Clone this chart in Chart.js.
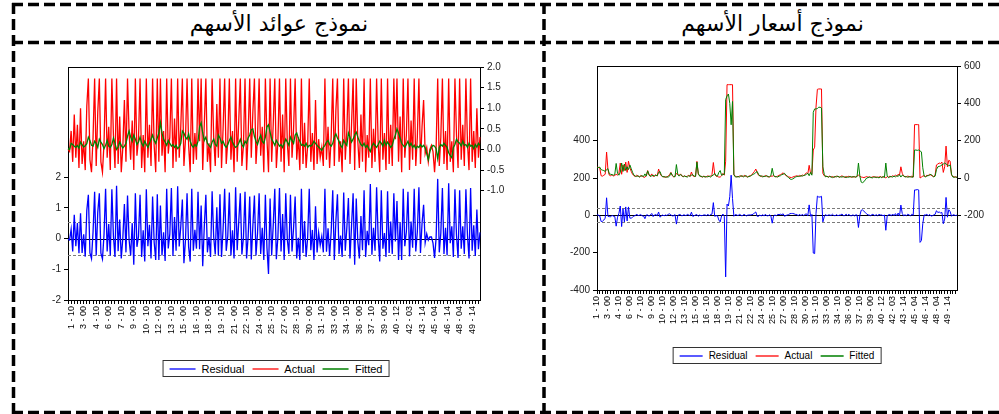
<!DOCTYPE html>
<html>
<head>
<meta charset="utf-8">
<script src="https://cdn.jsdelivr.net/npm/chart.js@4"></script>
<style>
html, body { margin: 0; padding: 0; background: #fff; }
body { width: 999px; height: 414px; position: relative; overflow: hidden; }
.title { position: absolute; top: 7px; height: 34px; line-height: 34px; text-align: center;
         font-family: "DejaVu Sans", sans-serif; font-size: 22px; color: #000; direction: rtl; }
canvas { position: absolute; }
svg { position: absolute; left: 0; top: 0; }
.legend { position: absolute; transform: translateX(-50%); display: flex; align-items: center;
          border: 1px solid #333; padding: 0 6px; box-sizing: border-box; background: #fff;
          font-family: "Liberation Sans", Arial, sans-serif; color: #000; white-space: nowrap; }
.legend .item { display: flex; align-items: center; margin-right: 8px; }
.legend .item:last-child { margin-right: 0; }
.legend .sample { display: inline-block; height: 2px; margin-right: 6px; }
</style>
</head>
<body>
<svg width="999" height="414">
  <g stroke="#000" stroke-width="3.5" stroke-dasharray="11 5" fill="none">
    <line x1="12" y1="4.5" x2="999" y2="4.5"/>
    <line x1="12" y1="42.5" x2="999" y2="42.5"/>
    <line x1="12" y1="412.5" x2="999" y2="412.5"/>
    <line x1="13.5" y1="3" x2="13.5" y2="414"/>
    <line x1="544" y1="3" x2="544" y2="414"/>
  </g>
</svg>
<div class="title" style="left:16px;width:526px">نموذج عوائد الأسهم</div>
<div class="title" style="left:546px;width:453px">نموذج أسعار الأسهم</div>
<canvas id="returnsChart" width="515" height="305" style="left:20px;top:50px"></canvas>
<canvas id="pricesChart" width="449" height="292" style="left:550px;top:50px"></canvas>
<div class="legend" id="returnsLegend" style="left:276px;top:360px;height:17px;font-size:11px"></div>
<div class="legend" id="pricesLegend" style="left:777px;top:347px;height:17px;font-size:10px"></div>
<script>
// tick labels on the time axis
const periodLabels = ['1 - 10', '3 - 00', '4 - 10', '6 - 00', '7 - 10', '9 - 00', '10 - 10', '12 - 00',
    '13 - 10', '15 - 00', '16 - 10', '18 - 00', '19 - 10', '21 - 00', '22 - 10', '24 - 00', '25 - 10',
    '27 - 00', '28 - 10', '30 - 00', '31 - 10', '33 - 00', '34 - 10', '36 - 00', '37 - 10', '39 - 00',
    '40 - 12', '42 - 03', '43 - 14', '45 - 04', '46 - 14', '48 - 04', '49 - 14'];
const seriesNames = ['Residual', 'Actual', 'Fitted'];
const seriesColors = ['#0000ff', '#ff0000', '#008000'];
const legendColors = ['#5b5bff', '#ff5b5b', '#3f9f3f'];

// stock returns model
const returnsActual = [
    0.00, -0.05, 0.45, -0.30, 0.85, -0.20, 0.60, -0.45, 1.00, -0.35, 0.20, -0.50,
    1.05, 1.72, -0.25, -0.55, 0.30, 1.72, -0.40, 0.90, 1.72, -0.30, -0.55, 0.15,
    1.72, -0.20, 0.55, -0.50, 1.72, 0.35, -0.45, 1.72, -0.35, 0.80, -0.55, 0.05,
    1.20, -0.30, 1.72, 0.40, -0.25, 0.70, -0.50, 1.72, -0.15, 0.25, 1.72, -0.45,
    0.35, -0.55, 1.72, -0.20, 0.60, -0.40, 1.72, 0.10, -0.55, 1.72, -0.30, 1.72,
    -0.15, 0.45, -0.55, 1.72, -0.10, 0.30, 1.72, -0.45, 0.75, -0.30, 1.72, -0.20,
    0.55, 1.72, -0.40, 0.25, 1.72, 0.10, -0.55, 1.72, -0.35, 0.40, -0.25, 1.72,
    0.20, 1.72, -0.50, 0.60, 1.72, -0.30, 0.15, -0.55, 1.72, 0.30, -0.40, 1.10,
    -0.20, 1.72, -0.45, 0.50, 1.72, -0.35, 0.20, 1.72, -0.25, 0.45, -0.55, 1.72,
    -0.30, 0.70, 1.72, -0.40, 0.10, 1.72, -0.50, 0.35, 1.72, -0.20, 0.90, 1.72,
    -0.35, 0.30, 1.72, -0.15, 0.55, -0.55, 1.72, 0.25, -0.55, 1.72, -0.30, 0.60,
    1.72, -0.45, 0.20, 1.72, -0.30, 0.85, -0.55, 1.72, 0.15, -0.40, 1.72, -0.20,
    0.50, 1.72, -0.25, 0.30, -0.50, 1.72, -0.35, 0.65, -0.45, 0.10, 1.72, -0.30,
    0.40, -0.50, 1.20, -0.35, 0.25, -0.20, 0.05, -0.40, 1.72, -0.25, 0.55, -0.45,
    0.30, 1.72, -0.40, 0.95, 1.72, -0.30, 0.20, -0.55, 1.72, -0.25, 0.45, 1.72,
    -0.35, 0.60, 1.72, -0.50, 1.72, 0.20, -0.45, 0.85, -0.30, 1.72, -0.55, 0.35,
    -0.20, 1.72, -0.45, 0.50, -0.30, 1.72, 0.15, -0.55, 1.72, -0.25, 0.40, -0.50,
    1.72, -0.35, 0.60, -0.40, 1.72, 0.25, 1.72, -0.30, 0.80, -0.55, 1.72, -0.20,
    0.35, 1.72, -0.50, 0.70, -0.25, 1.72, -0.40, 0.30, 1.72, -0.35, 0.55, 1.20,
    -0.10, 0.05, -0.30, 0.00, 0.10, -0.05, -0.55, 0.05, 1.72, -0.40, 0.30, 1.72,
    -0.35, 0.45, -0.50, 1.72, -0.30, 0.20, -0.55, 1.72, 0.35, -0.45, 1.72, -0.25,
    0.60, -0.40, 1.72, 0.15, -0.50, 1.72, -0.30, 0.45, -0.45, 1.00, -0.20, 0.30
];
const returnsFitted = [
    0.02, 0.00, 0.15, 0.12, 0.08, 0.05, 0.10, 0.03, 0.18, 0.12, 0.06, 0.09,
    0.14, 0.30, 0.22, 0.10, 0.08, 0.20, 0.15, 0.05, 0.25, 0.18, 0.12, 0.02,
    0.10, 0.22, 0.08, 0.05, 0.12, 0.28, 0.15, 0.00, 0.06, 0.18, 0.10, 0.04,
    0.08, 0.15, 0.32, 0.45, 0.30, 0.20, 0.35, 0.25, 0.12, 0.18, 0.30, 0.15,
    0.08, 0.20, 0.12, 0.05, 0.15, 0.25, 0.35, 0.22, 0.15, 0.28, 0.40, 0.65,
    0.40, 0.25, 0.18, 0.10, 0.22, 0.15, 0.08, 0.12, 0.05, 0.10, 0.02, 0.06,
    0.15, 0.45, 0.40, 0.30, 0.25, 0.38, 0.20, 0.10, 0.05, 0.12, 0.08, 0.20,
    0.55, 0.65, 0.40, 0.22, 0.30, 0.15, 0.10, 0.05, 0.18, 0.25, 0.12, 0.08,
    0.35, 0.28, 0.15, 0.20, 0.10, 0.05, 0.12, 0.22, 0.30, 0.18, 0.10, 0.05,
    0.08, 0.15, 0.25, 0.12, 0.06, 0.20, 0.15, 0.28, 0.35, 0.48, 0.50, 0.32,
    0.20, 0.12, 0.25, 0.35, 0.20, 0.15, 0.30, 0.55, 0.60, 0.42, 0.25, 0.18,
    0.10, 0.22, 0.15, 0.08, 0.12, 0.05, 0.15, 0.25, 0.18, 0.10, 0.30, 0.22,
    0.15, 0.35, 0.40, 0.28, 0.20, 0.10, 0.12, 0.08, 0.15, 0.05, 0.10, 0.08,
    0.12, 0.20, 0.15, 0.10, 0.06, 0.02, -0.02, 0.05, 0.10, 0.18, 0.22, 0.12,
    0.08, 0.15, 0.30, 0.38, 0.28, 0.20, 0.10, 0.05, 0.22, 0.15, 0.10, 0.40,
    0.30, 0.18, 0.25, 0.35, 0.42, 0.30, 0.20, 0.12, 0.08, 0.15, 0.05, 0.10,
    0.02, -0.05, 0.08, 0.15, 0.10, 0.05, 0.12, 0.20, 0.15, 0.08, 0.22, 0.10,
    0.18, 0.12, 0.05, 0.10, 0.25, 0.35, 0.50, 0.40, 0.28, 0.15, 0.10, 0.05,
    0.12, 0.20, 0.08, 0.15, 0.05, 0.10, 0.02, 0.08, 0.05, 0.12, 0.06, 0.10,
    0.04, -0.10, -0.25, -0.05, 0.05, 0.10, 0.08, 0.02, -0.22, 0.05, 0.12, 0.08,
    0.15, 0.10, 0.05, -0.08, -0.15, -0.20, 0.05, 0.12, 0.25, 0.18, 0.15, 0.08,
    0.20, 0.10, 0.12, 0.05, 0.15, 0.08, 0.10, 0.02, 0.12, 0.06, 0.15, 0.10
];
const returnsResidual = [
    -0.02, -0.05, 0.30, -0.42, 0.77, -0.25, 0.50, -0.48, 0.82, -0.47, 0.14, -0.59,
    0.91, 1.42, -0.47, -0.65, 0.22, 1.52, -0.55, 0.85, 1.47, -0.48, -0.67, 0.13,
    1.62, -0.42, 0.47, -0.55, 1.60, 0.07, -0.60, 1.72, -0.41, 0.62, -0.65, 0.01,
    1.12, -0.45, 1.40, -0.05, -0.55, 0.50, -0.85, 1.47, -0.27, 0.07, 1.42, -0.60,
    0.27, -0.75, 1.60, -0.25, 0.45, -0.65, 1.37, -0.12, -0.70, 1.44, -0.70, 1.07,
    -0.55, 0.20, -0.73, 1.62, -0.32, 0.15, 1.64, -0.57, 0.70, -0.40, 1.70, -0.26,
    0.40, 1.27, -0.80, -0.05, 1.47, -0.28, -0.75, 1.62, -0.40, 0.28, -0.33, 1.52,
    -0.35, 1.07, -0.90, 0.38, 1.42, -0.45, 0.05, -0.60, 1.54, 0.05, -0.52, 1.02,
    -0.55, 1.44, -0.60, 0.30, 1.62, -0.40, 0.08, 1.50, -0.55, 0.27, -0.65, 1.67,
    -0.38, 0.55, 1.47, -0.52, 0.04, 1.52, -0.65, 0.07, 1.37, -0.68, 0.40, 1.40,
    -0.55, 0.18, 1.47, -0.50, 0.35, -0.70, 1.42, -0.30, -1.15, 1.30, -0.55, 0.42,
    1.62, -0.67, 0.05, 1.64, -0.42, 0.80, -0.70, 1.47, -0.03, -0.50, 1.42, -0.42,
    0.35, 1.37, -0.65, 0.02, -0.70, 1.62, -0.47, 0.57, -0.60, 0.05, 1.62, -0.38,
    0.28, -0.70, 1.05, -0.45, 0.19, -0.22, 0.07, -0.45, 1.62, -0.43, 0.33, -0.57,
    0.22, 1.57, -0.70, 0.57, 1.44, -0.50, 0.10, -0.60, 1.50, -0.40, 0.35, 1.32,
    -0.65, 0.42, 1.47, -0.85, 1.30, -0.10, -0.65, 0.73, -0.38, 1.57, -0.60, 0.25,
    -0.22, 1.77, -0.53, 0.35, -0.40, 1.67, 0.03, -0.75, 1.57, -0.33, 0.18, -0.60,
    1.54, -0.47, 0.55, -0.50, 1.47, -0.10, 1.22, -0.70, 0.52, -0.70, 1.62, -0.25,
    0.23, 1.52, -0.58, 0.55, -0.30, 1.62, -0.42, 0.22, 1.67, -0.47, 0.49, 1.10,
    -0.14, 0.15, -0.05, 0.05, 0.05, -0.15, -0.63, 0.03, 1.94, -0.45, 0.18, 1.64,
    -0.50, 0.35, -0.55, 1.80, -0.15, 0.40, -0.60, 1.60, 0.10, -0.63, 1.57, -0.33,
    0.40, -0.50, 1.60, 0.10, -0.65, 1.64, -0.40, 0.43, -0.57, 0.94, -0.35, 0.20
];
const returnsResidualTicks = [-2, -1, 0, 1, 2];
const returnsLevelTicks = [-1, -0.5, 0, 0.5, 1, 1.5, 2];
const returnsBand = 0.55;

// stock prices model
const pricesActual = [
    58, 57, 55, 12, 10, 15, 20, 139, 45, 15, 12, 18,
    10, 14, 20, 15, 25, 80, 20, 70, 40, 85, 30, 90,
    55, 35, 20, 12, 8, 15, 10, 6, 14, 9, 5, 4,
    12, 40, 15, 10, 22, 8, 12, 18, 10, 48, 25, 12,
    8, 5, 6, 5, 10, 18, 30, 12, 6, 10, 25, 18,
    14, 22, 10, 8, 12, 6, 10, 14, 8, 32, 12, 8,
    10, 89, 20, 12, 8, 5, 10, 7, 6, 12, 8, 10,
    18, 83, 20, 10, 8, 5, 5, 12, 25, 15, 90, 500,
    500, 500, 500, 500, 15, 10, 8, 6, 10, 12, 8, 10,
    14, 8, 6, 10, 12, 18, 25, 35, 48, 30, 15, 12,
    8, 10, 6, 14, 10, 5, 8, 10, 10, 12, 8, 6,
    10, 14, 18, 22, 28, 20, 14, 10, 6, 4, 2, 5,
    8, 10, 12, 8, 14, 10, 16, 12, 20, 28, 22, 68,
    25, 20, 150, 165, 380, 475, 477, 477, 477, 25, 12, 10,
    8, 6, 10, 5, 8, 4, 6, 10, 8, 5, 8, 12,
    6, 4, 8, 5, 10, 6, 4, 8, 5, 6, 10, 15,
    10, 5, 4, 2, 5, 8, 4, 6, 2, 5, 8, 4,
    6, 3, 5, 8, 4, 6, 5, 0, 8, 5, 10, 6,
    12, 8, 15, 10, 20, 15, 60, 25, 10, 8, 6, 10,
    8, 5, 10, 5, 286, 286, 286, 286, 0, 5, 10, 12,
    8, 15, 12, 20, 16, 10, 8, 15, 70, 75, 80, 78,
    85, 30, 60, 171, 60, 95, 90, 15, 8, 6, 5, 4
];
const pricesFitted = [
    55, 56, 58, 45, 42, 40, 35, 45, 50, 22, 20, 18,
    15, 20, 78, 25, 15, 30, 80, 35, 75, 40, 60, 45,
    70, 50, 30, 15, 10, 8, 12, 5, 10, 12, 8, 22,
    10, 38, 20, 8, 12, 15, 10, 14, 12, 30, 35, 15,
    6, 8, 4, 6, 5, 10, 28, 15, 8, 6, 72, 20,
    10, 18, 14, 6, 10, 8, 5, 12, 10, 15, 18, 10,
    8, 85, 25, 10, 10, 6, 8, 5, 8, 6, 10, 5,
    12, 15, 25, 12, 10, 30, 40, 15, 18, 20, 420, 440,
    450, 400, 285, 410, 20, 6, 5, 8, 5, 10, 12, 6,
    10, 12, 5, 8, 10, 14, 20, 22, 30, 35, 20, 10,
    12, 6, 10, 8, 12, 8, 5, 12, 52, 15, 6, 8,
    5, 10, 12, 18, 20, 25, 15, 8, 2, -5, -8, -5,
    0, 5, 8, 10, 8, 12, 10, 14, 15, 20, 25, 12,
    30, 15, 352, 370, 370, 372, 379, 379, 375, 60, 20, 6,
    10, 4, 8, 6, 2, 5, 8, 6, 10, 4, 6, 5,
    8, 5, 2, 6, 4, 8, 6, 5, 8, 4, 8, 80,
    12, -22, -25, -20, -10, 0, 2, 5, 4, 0, 4, 6,
    2, 5, 0, 6, 2, 8, 3, 80, 10, 2, 6, 8,
    5, 10, 6, 12, 8, 18, 5, 15, 12, 5, 8, 4,
    6, 8, 4, 5, 150, 150, 148, 150, 145, 140, 55, 10,
    6, 10, 14, 15, 20, 12, 6, 10, 45, 60, 62, 65,
    70, 75, 80, 75, 70, 65, 70, 20, 5, 4, 6, 3
];
const pricesResidual = [
    3, 1, -3, -33, -32, -25, -15, 94, -5, -7, -8, 0,
    -5, -6, -58, -10, 10, 50, -60, 35, -35, 45, -30, 45,
    -15, -15, -10, -3, -2, 7, -2, 1, 4, -3, -3, -18,
    2, 2, -5, 2, 10, -7, 2, 4, -2, 18, -10, -3,
    2, -3, 2, -1, 5, 8, 2, -3, -2, 4, -47, -2,
    4, 4, -4, 2, 2, -2, 5, 2, -2, 17, -6, -2,
    2, 4, -5, 2, -2, -1, 2, 2, -2, 6, -2, 5,
    6, 68, -5, -2, -2, -25, -35, -3, 7, -5, -330, 60,
    50, 100, 215, 90, -5, 4, 3, -2, 5, 2, -4, 4,
    4, -4, 1, 2, 2, 4, 5, 13, 18, -5, -5, 2,
    -4, 4, -4, 6, -2, -3, 3, -2, -42, -3, 2, -2,
    5, 4, 6, 4, 8, -5, -1, 2, 4, 9, 10, 10,
    8, 5, 4, -2, 6, -2, 6, -2, 5, 8, -3, 56,
    -5, 5, -202, -205, 10, 103, 98, 98, 102, -35, -8, 4,
    -2, 2, 2, -1, 6, -1, -2, 4, -2, 1, 2, 7,
    -2, -1, 6, -1, 6, -2, -2, 3, -3, 2, 2, -65,
    -2, 27, 29, 22, 15, 8, 2, 1, -2, 5, 4, -2,
    4, -2, 5, 2, 2, -2, 2, -80, -2, 3, 4, -2,
    7, -2, 9, -2, 12, -3, 55, 10, -2, 3, -2, 6,
    2, -3, 6, 0, 136, 136, 138, 136, -145, -135, -45, 2,
    2, 5, -2, 5, -4, -2, 2, 5, 25, 15, 18, 13,
    15, -45, -20, 96, -10, 30, 20, -5, 3, 2, -1, 1
];
const pricesResidualTicks = [-400, -200, 0, 200, 400];
const pricesLevelTicks = [-200, 0, 200, 400, 600];
const pricesBand = 38;

Chart.defaults.font.family = '"Liberation Sans", Arial, sans-serif';
Chart.defaults.color = '#222';

// put the period labels every 8th observation, empty elsewhere
function buildLabels(n, offset) {
    const labels = new Array(n).fill('');
    periodLabels.forEach((lab, k) => {
        const i = offset + k * 8;
        if (i < n) labels[i] = lab;
    });
    return labels;
}

// boxed legend under each chart, one line sample per series
function buildLegend(id, sampleWidth) {
    const box = document.getElementById(id);
    seriesNames.forEach((name, i) => {
        const item = document.createElement('span');
        item.className = 'item';
        const sample = document.createElement('span');
        sample.className = 'sample';
        sample.style.width = sampleWidth + 'px';
        sample.style.backgroundColor = legendColors[i];
        item.appendChild(sample);
        item.appendChild(document.createTextNode(name));
        box.appendChild(item);
    });
}

// zero line, +/- band and the top border of the plot box
const eviewsPlugin = {
    id: 'eviews',
    beforeDatasetsDraw(chart, args, opts) {
        const {ctx, chartArea: a} = chart;
        const y = chart.scales.yRes;
        ctx.save();
        ctx.lineWidth = 1;
        ctx.setLineDash([3, 2]);
        ctx.strokeStyle = '#7a7a7a';
        [opts.band, -opts.band].forEach(v => {
            const p = Math.round(y.getPixelForValue(v)) + 0.5;
            ctx.beginPath(); ctx.moveTo(a.left, p); ctx.lineTo(a.right, p); ctx.stroke();
        });
        ctx.setLineDash([]);
        ctx.strokeStyle = '#000';
        const z = Math.round(y.getPixelForValue(0)) + 0.5;
        ctx.beginPath(); ctx.moveTo(a.left, z); ctx.lineTo(a.right, z); ctx.stroke();
        ctx.restore();
    },
    afterDraw(chart) {
        const {ctx, chartArea: a} = chart;
        ctx.save();
        ctx.strokeStyle = '#000';
        ctx.lineWidth = 1;
        const t = Math.round(a.top) + 0.5;
        ctx.beginPath(); ctx.moveTo(a.left, t); ctx.lineTo(a.right, t); ctx.stroke();
        ctx.restore();
    }
};

function makeChart(id, cfg) {
    const n = cfg.actual.length;
    const series = [cfg.residual, cfg.actual, cfg.fitted];
    const axes = ['yRes', 'yLev', 'yLev'];
    const drawOrder = [1, 2, 0];   // fitted on top of actual
    return new Chart(document.getElementById(id), {
        type: 'line',
        data: {
            labels: buildLabels(n, cfg.labelOffset),
            datasets: series.map((data, i) => ({
                label: seriesNames[i], data, yAxisID: axes[i], order: drawOrder[i],
                borderColor: seriesColors[i], backgroundColor: seriesColors[i],
                borderWidth: cfg.lineWidth, pointRadius: 0, tension: 0, fill: false
            }))
        },
        options: {
            responsive: false,
            animation: false,
            events: [],
            layout: {padding: {top: cfg.padTop, left: 0, right: 0, bottom: 0}, autoPadding: false},
            plugins: {
                tooltip: {enabled: false},
                legend: {display: false},
                eviews: {band: cfg.band}
            },
            scales: {
                x: {
                    offset: false,
                    grid: {
                        drawOnChartArea: false, tickLength: 4,
                        color: c => c.index % 2 === 0 ? '#000' : 'rgba(0,0,0,0)'
                    },
                    border: {color: '#000'},
                    ticks: {autoSkip: false, minRotation: 90, maxRotation: 90, padding: 2,
                            color: '#000', font: {size: 9}},
                    afterFit: s => { s.height = cfg.xHeight; }
                },
                yRes: {
                    position: 'left',
                    min: cfg.resMin, max: cfg.resMax,
                    grid: {drawOnChartArea: false, tickLength: 4, color: '#000'},
                    border: {color: '#000'},
                    ticks: {font: {size: 10}, padding: 3},
                    afterBuildTicks: s => { s.ticks = cfg.resTicks.map(v => ({value: v})); },
                    afterFit: s => { s.width = cfg.leftWidth; }
                },
                yLev: {
                    position: 'right',
                    min: cfg.levMin, max: cfg.levMax,
                    grid: {drawOnChartArea: false, tickLength: 4, color: '#000'},
                    border: {color: '#000'},
                    ticks: {font: {size: 10}, padding: 3, callback: cfg.levFormat},
                    afterBuildTicks: s => { s.ticks = cfg.levTicks.map(v => ({value: v})); },
                    afterFit: s => { s.width = cfg.rightWidth; }
                }
            }
        },
        plugins: [eviewsPlugin]
    });
}

makeChart('returnsChart', {
    actual: returnsActual, fitted: returnsFitted, residual: returnsResidual,
    band: returnsBand, labelOffset: 2, lineWidth: 1.3,
    resMin: -2, resMax: 5.58, resTicks: returnsResidualTicks,
    levMin: -3.65, levMax: 2.0, levTicks: returnsLevelTicks, levFormat: v => v.toFixed(1),
    padTop: 17, xHeight: 55, leftWidth: 48, rightWidth: 55
});
buildLegend('returnsLegend', 26);

makeChart('pricesChart', {
    actual: pricesActual, fitted: pricesFitted, residual: pricesResidual,
    band: pricesBand, labelOffset: 0, lineWidth: 1,
    resMin: -400, resMax: 800, resTicks: pricesResidualTicks,
    levMin: -600, levMax: 600, levTicks: pricesLevelTicks, levFormat: v => String(v),
    padTop: 16, xHeight: 52, leftWidth: 47, rightWidth: 42
});
buildLegend('pricesLegend', 23);
</script>
</body>
</html>
